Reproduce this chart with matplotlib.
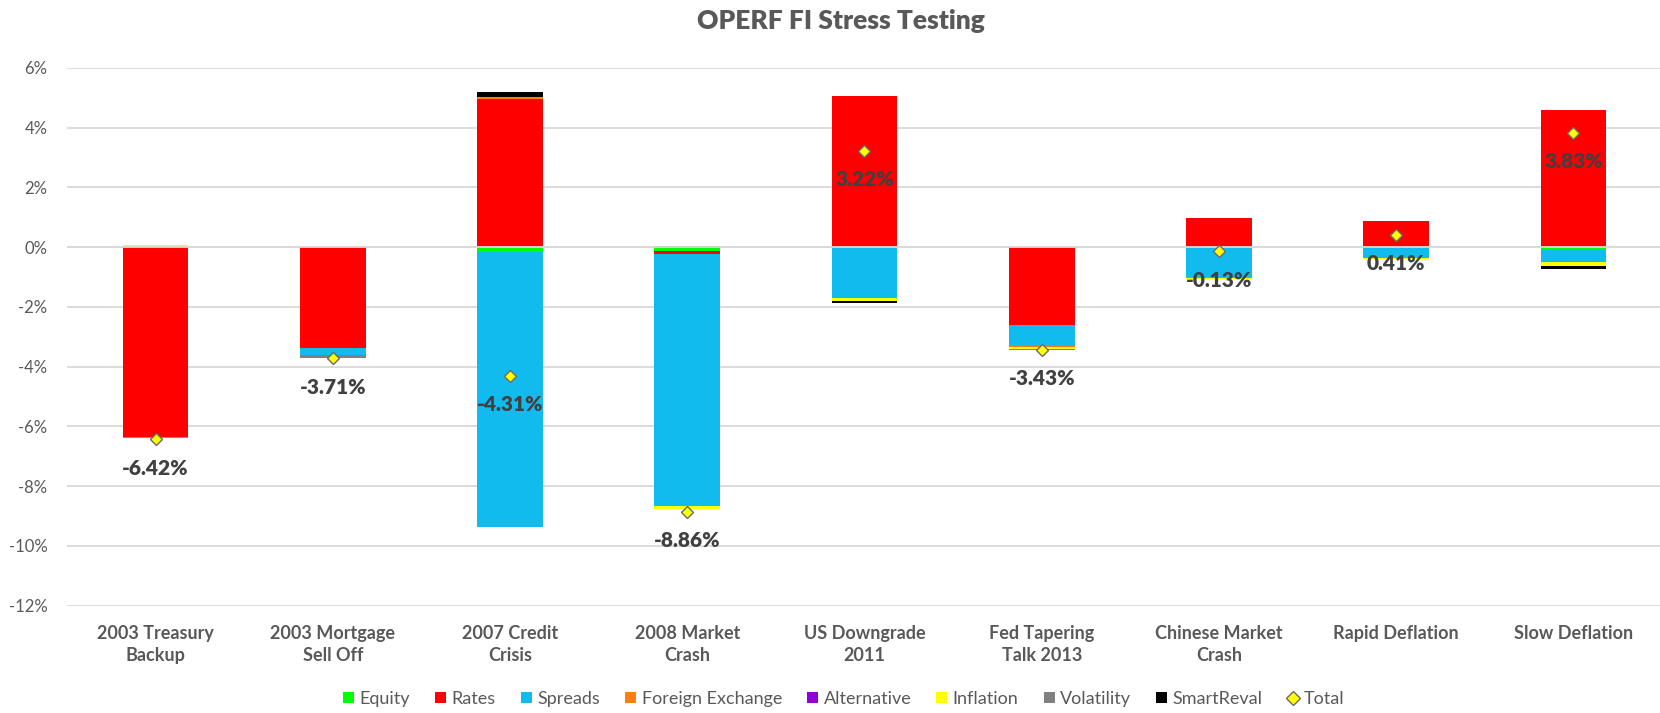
import numpy as np
import matplotlib.pyplot as plt
from matplotlib.lines import Line2D
from matplotlib.patches import Patch

plt.rcParams['font.family'] = ['Lato', 'DejaVu Sans']

categories = ["2003 Treasury\nBackup", "2003 Mortgage\nSell Off", "2007 Credit\nCrisis",
              "2008 Market\nCrash", "US Downgrade\n2011", "Fed Tapering\nTalk 2013",
              "Chinese Market\nCrash", "Rapid Deflation", "Slow Deflation"]

# contributions in %
equity = [0.00, 0.00, -0.15, -0.13, -0.03, 0.00, -0.02, 0.00, -0.10]
rates = [-6.36, -3.39, 4.96, -0.10, 5.07, -2.62, 0.98, 0.87, 4.57]
spreads = [-0.02, -0.23, -9.23, -8.44, -1.68, -0.70, -0.99, -0.36, -0.40]
fx = [0.00, 0.00, 0.05, 0.00, 0.00, -0.03, -0.03, 0.00, 0.00]
alternative = [0.00, 0.00, 0.00, 0.00, 0.00, 0.00, 0.00, 0.00, 0.00]
inflation = [0.08, 0.00, 0.00, -0.09, -0.09, -0.05, -0.03, -0.04, -0.12]
volatility = [0.00, -0.08, 0.00, 0.04, 0.00, -0.03, 0.00, 0.00, -0.03]
smartreval = [0.00, 0.00, 0.19, 0.00, -0.06, 0.00, 0.00, 0.00, -0.07]
total = [-6.42, -3.71, -4.31, -8.86, 3.22, -3.43, -0.13, 0.41, 3.83]

series = [("Equity", equity, "#00ff00"),
          ("Rates", rates, "#ff0000"),
          ("Spreads", spreads, "#12bbee"),
          ("Foreign Exchange", fx, "#ff7f0e"),
          ("Alternative", alternative, "#9400d3"),
          ("Inflation", inflation, "#ffff00"),
          ("Volatility", volatility, "#808080"),
          ("SmartReval", smartreval, "#000000")]

fig = plt.figure(figsize=(16.6, 7.13), dpi=100)
ax = fig.add_axes([67/1660, 0.1506, 1595/1660, 0.7544])

x = np.arange(len(categories))
pos = np.zeros(len(x))
neg = np.zeros(len(x))
for name, vals, col in series:
    v = np.array(vals)
    bottom = np.where(v >= 0, pos, neg)
    ax.bar(x, v, 0.37, bottom=bottom, color=col, zorder=2, linewidth=0)
    pos = pos + np.where(v >= 0, v, 0)
    neg = neg + np.where(v < 0, v, 0)

ax.axhline(0, color="#d9d9d9", lw=1.3, zorder=3)
ax.plot(x, total, linestyle="none", marker="D", markersize=6.5,
        markerfacecolor="#ffff00", markeredgecolor="#6b6b6b", markeredgewidth=1, zorder=4)
for xi, t in zip(x, total):
    ax.annotate(f"{t:.2f}%", (xi, t), xytext=(0, -21), textcoords="offset points",
                ha="center", va="center", fontsize=15, fontweight="heavy", color="#404040", zorder=5)

ax.set_xlim(-0.5, 8.5)
ax.set_ylim(-12, 6)
ax.set_yticks(np.arange(-12, 7, 2))
ax.set_yticklabels([f"{v}%" for v in range(-12, 7, 2)], fontsize=12, color="#595959")
ax.set_xticks(x)
ax.set_xticklabels(categories, fontsize=13, fontweight="bold", color="#595959", linespacing=1.35)
ax.tick_params(axis="both", length=0)
ax.tick_params(axis="y", pad=14)
ax.tick_params(axis="x", pad=14)
ax.yaxis.grid(True, color="#d9d9d9", lw=1.3, zorder=0)
ax.set_axisbelow(True)
for s in ax.spines.values():
    s.set_visible(False)

fig.text(841/1660, 1 - 21/713, "OPERF FI Stress Testing", ha="center", va="center",
         fontsize=19, fontweight="heavy", color="#595959")

handles = [Patch(facecolor=col, label=name) for name, vals, col in series]
handles.append(Line2D([], [], linestyle="none", marker="D", markersize=7,
                      markerfacecolor="#ffff00", markeredgecolor="#6b6b6b", label="Total"))
fig.legend(handles=handles, loc="center", bbox_to_anchor=(844/1660, 1 - 699/713), ncol=9,
           frameon=False, fontsize=13, handlelength=0.6, handleheight=0.6, handletextpad=0.3,
           columnspacing=1.4, labelcolor="#595959")

fig.savefig("out.png", dpi=100)
